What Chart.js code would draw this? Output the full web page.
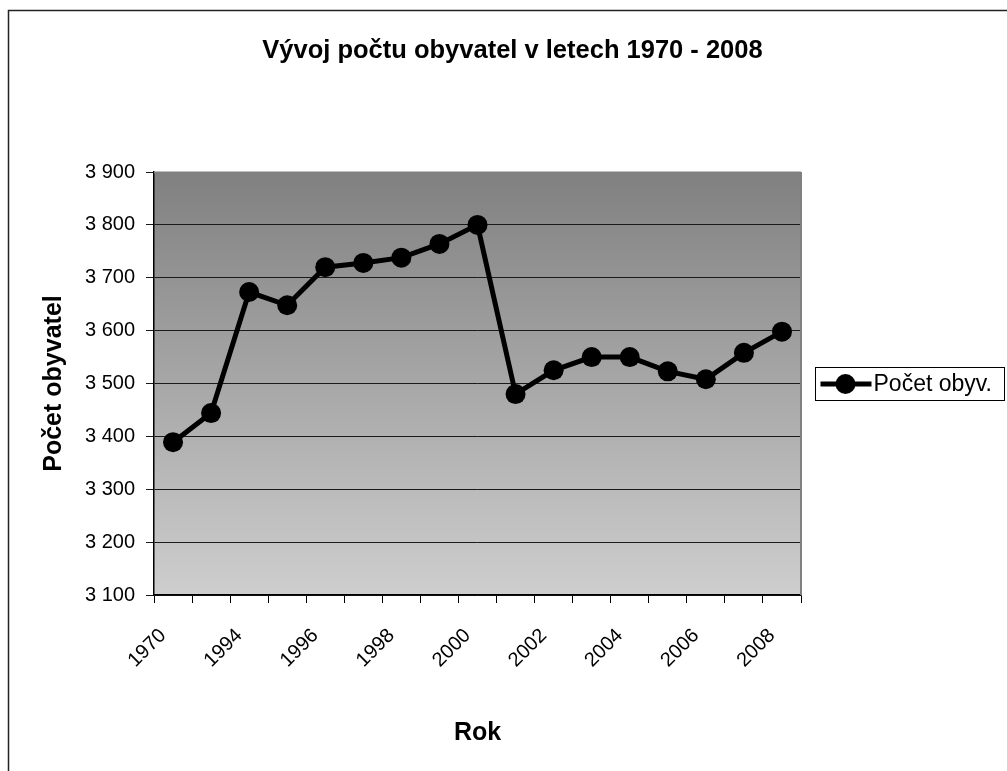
<!DOCTYPE html>
<html><head><meta charset="utf-8">
<script src="https://cdn.jsdelivr.net/npm/chart.js@4.4.1/dist/chart.umd.min.js"></script>
<style>html,body{margin:0;padding:0;background:#fff;overflow:hidden}#wrap{position:relative;width:1007px;height:771px}</style>
</head><body><div id="wrap"><canvas id="c" width="1007" height="771"></canvas></div>
<script>
const chartTitle = 'Vývoj počtu obyvatel v letech 1970 - 2008';
const xAxisTitle = 'Rok';
const yAxisTitle = 'Počet obyvatel';
const seriesName = 'Počet obyv.';
const categories = ['1970','1991','1994','1995','1996','1997','1998','1999','2000','2001','2002','2003','2004','2005','2006','2007','2008'];
const populationValues = [3389, 3444, 3673, 3648, 3720, 3728, 3738, 3764, 3800, 3480, 3525, 3550, 3550, 3523, 3508, 3558, 3598];
const yTickMin = 3100;
const yTickMax = 3900;
const yTickStep = 100;

const baseFont = '"Liberation Sans", Arial, sans-serif';

function fmt(v){ return String(v).replace(/\B(?=(\d{3})+(?!\d))/g, ' '); }

const decor = {
  id: 'decor',
  beforeDraw(chart) {
    const {ctx, chartArea: a} = chart;
    ctx.save();
    ctx.fillStyle = '#fff';
    ctx.fillRect(0, 0, chart.width, chart.height);
    const g = ctx.createLinearGradient(0, a.top, 0, a.bottom);
    g.addColorStop(0, 'rgb(128,128,128)');
    g.addColorStop(1, 'rgb(206,206,206)');
    ctx.fillStyle = g;
    ctx.fillRect(a.left, a.top, a.right - a.left, a.bottom - a.top);
    ctx.strokeStyle = '#222';
    ctx.lineWidth = 1.5;
    ctx.beginPath();
    ctx.moveTo(8.5, chart.height + 2);
    ctx.lineTo(8.5, 10.5);
    ctx.lineTo(chart.width + 2, 10.5);
    ctx.stroke();
    ctx.restore();
  },
  afterDraw(chart) {
    const {ctx, chartArea: a} = chart;
    const ds = chart.data.datasets[0];
    ctx.save();
    ctx.strokeStyle = '#808080';
    ctx.lineWidth = 2;
    ctx.beginPath();
    ctx.moveTo(a.left, a.top + 0.5);
    ctx.lineTo(a.right, a.top + 0.5);
    ctx.moveTo(a.right, a.top);
    ctx.lineTo(a.right, a.bottom);
    ctx.stroke();
    // legend
    const bx = 815.5, by = 367.5, bw = 189, bh = 33;
    ctx.fillStyle = '#fff';
    ctx.fillRect(bx, by, bw, bh);
    ctx.strokeStyle = '#000';
    ctx.lineWidth = 1;
    ctx.strokeRect(bx, by, bw, bh);
    const cy = by + bh / 2;
    ctx.strokeStyle = ds.borderColor;
    ctx.lineWidth = ds.borderWidth;
    ctx.beginPath();
    ctx.moveTo(bx + 5, cy);
    ctx.lineTo(bx + 56, cy);
    ctx.stroke();
    ctx.fillStyle = ds.pointBackgroundColor;
    ctx.beginPath();
    ctx.arc(bx + 30, cy, ds.pointRadius, 0, Math.PI * 2);
    ctx.fill();
    ctx.fillStyle = '#000';
    ctx.font = '23px ' + baseFont;
    ctx.textBaseline = 'middle';
    ctx.textAlign = 'left';
    ctx.fillText(ds.label, bx + 58, cy + 1);
    ctx.restore();
  }
};

new Chart(document.getElementById('c'), {
  type: 'line',
  data: {
    labels: categories,
    datasets: [{
      label: seriesName,
      data: populationValues,
      borderColor: '#000',
      borderWidth: 5,
      pointRadius: 10,
      pointHoverRadius: 10,
      pointBackgroundColor: '#000',
      pointBorderColor: '#000',
      pointBorderWidth: 0,
      tension: 0,
      fill: false
    }]
  },
  options: {
    responsive: false,
    animation: false,
    devicePixelRatio: 1,
    layout: { padding: { left: 18, right: 0, top: 0, bottom: 0 } },
    plugins: {
      legend: { display: false },
      tooltip: { enabled: false },
      title: {
        display: true,
        text: chartTitle,
        color: '#000',
        font: { family: baseFont, size: 25.5, weight: 'bold' },
        padding: { top: 35.7, bottom: 105.7 }
      }
    },
    scales: {
      x: {
        type: 'category',
        offset: true,
        afterFit(s) { s.height = 176; },
        border: { display: true, color: '#000', width: 1.5 },
        grid: { display: true, drawOnChartArea: false, drawTicks: true, tickLength: 8, color: '#000', lineWidth: 1, offset: true },
        ticks: {
          autoSkip: false,
          maxRotation: 45,
          minRotation: 45,
          padding: 21,
          labelOffset: -10,
          color: '#000',
          font: { family: baseFont, size: 20 },
          callback(v, i) { return i % 2 === 0 ? this.getLabelForValue(v) : ''; }
        },
        title: {
          display: true,
          text: xAxisTitle,
          color: '#000',
          font: { family: baseFont, size: 25, weight: 'bold' },
          padding: { top: 0, bottom: 23 }
        }
      },
      y: {
        min: yTickMin,
        max: yTickMax,
        afterFit(s) { s.width = 136; },
        border: { display: true, color: '#000', width: 1.5 },
        grid: { color: '#1a1a1a', lineWidth: 1, tickLength: 8, drawTicks: true },
        ticks: {
          stepSize: yTickStep,
          padding: 11,
          color: '#000',
          font: { family: baseFont, size: 20 },
          callback(v) { return fmt(v); }
        },
        title: {
          display: true,
          text: yAxisTitle,
          color: '#000',
          font: { family: baseFont, size: 25, weight: 'bold' },
          padding: { top: 21, bottom: 0 }
        }
      },
      legendSpace: {
        position: 'right',
        display: true,
        afterFit(s) { s.width = 206; },
        grid: { display: false },
        border: { display: false },
        ticks: { display: false },
        title: { display: false }
      }
    }
  },
  plugins: [decor]
});
</script>
</body></html>
